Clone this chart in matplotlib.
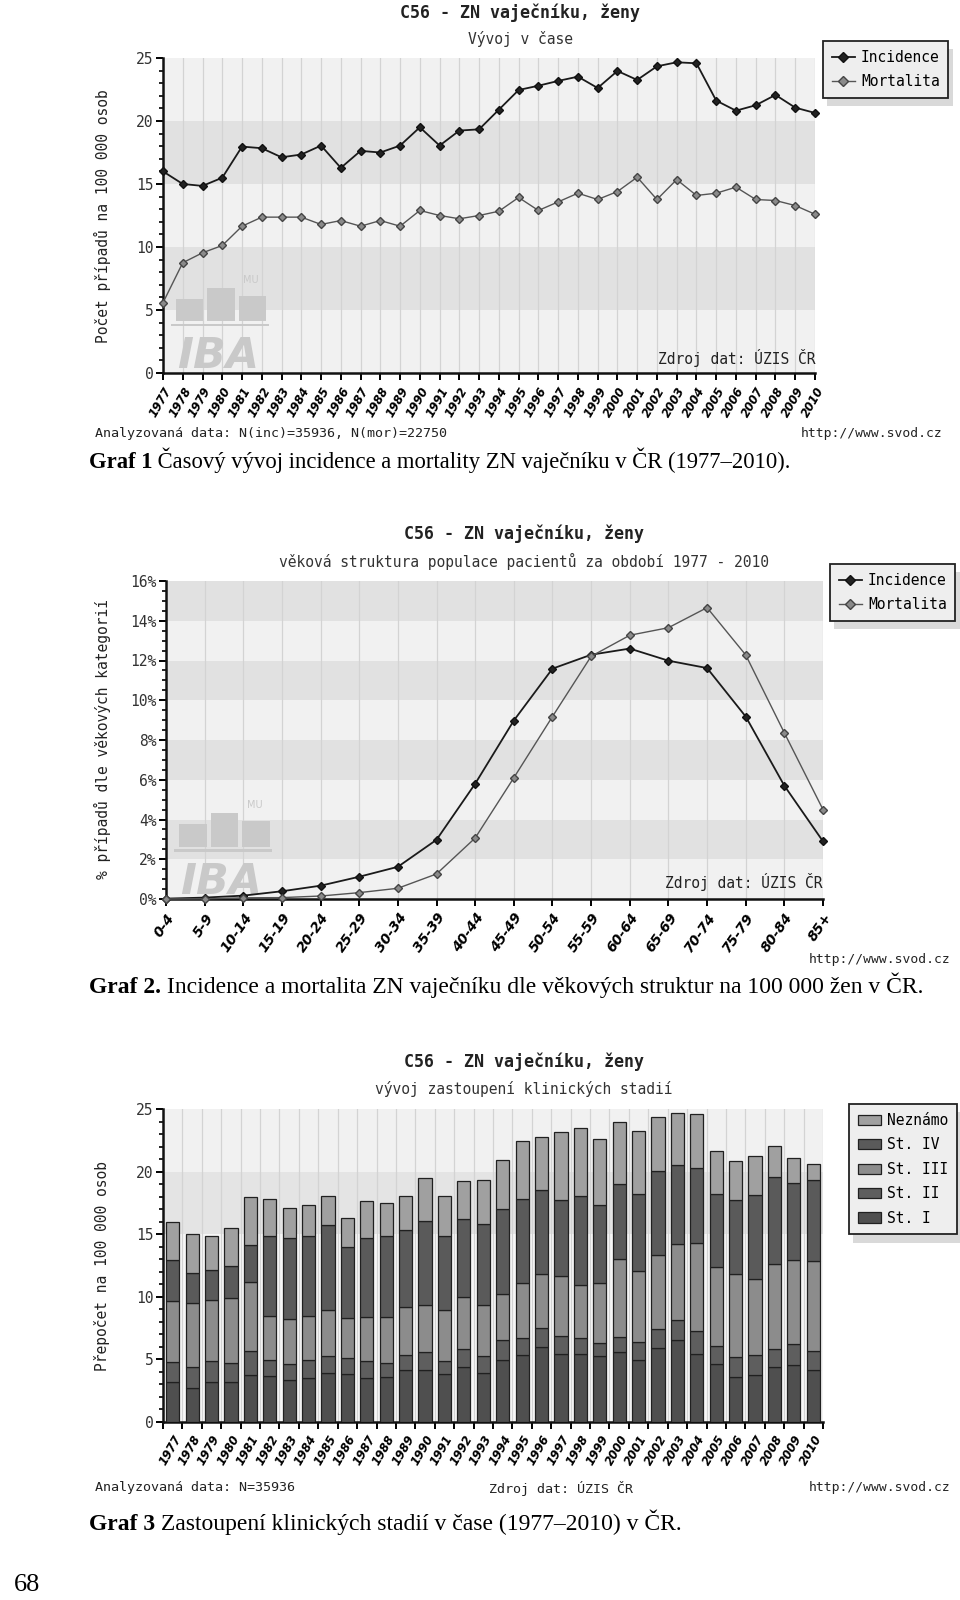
import matplotlib
matplotlib.use('Agg')
import matplotlib.pyplot as plt
from matplotlib.ticker import MultipleLocator, FixedLocator
from matplotlib.patches import Rectangle, Patch
from matplotlib.lines import Line2D

# ---- data ----
years = list(range(1977, 2011))
incidence = [16.0, 15.0, 14.85, 15.5, 17.97, 17.84, 17.12, 17.34, 18.05, 16.28,
             17.63, 17.5, 18.05, 19.5, 18.05, 19.24, 19.34, 20.9, 22.46, 22.8,
             23.18, 23.52, 22.62, 23.97, 23.26, 24.34, 24.66, 24.58, 21.62, 20.82,
             21.25, 22.07, 21.06, 20.64]
mortalita = [5.58, 8.75, 9.54, 10.12, 11.65, 12.37, 12.37, 12.37, 11.79, 12.1,
             11.65, 12.1, 11.65, 12.9, 12.5, 12.24, 12.5, 12.84, 13.93, 12.9,
             13.58, 14.27, 13.77, 14.4, 15.54, 13.77, 15.35, 14.09, 14.27, 14.75,
             13.77, 13.69, 13.29, 12.6]

age_groups = ['0-4', '5-9', '10-14', '15-19', '20-24', '25-29', '30-34', '35-39',
              '40-44', '45-49', '50-54', '55-59', '60-64', '65-69', '70-74',
              '75-79', '80-84', '85+']
age_inc = [0.02, 0.07, 0.17, 0.39, 0.67, 1.12, 1.62, 2.98, 5.8, 8.98, 11.59,
           12.29, 12.6, 11.99, 11.62, 9.18, 5.7, 2.9]
age_mor = [0.0, 0.01, 0.06, 0.07, 0.15, 0.32, 0.54, 1.26, 3.07, 6.1, 9.18,
           12.21, 13.27, 13.65, 14.66, 12.28, 8.36, 4.5]

st_1 = [3.21, 2.73, 3.21, 3.21, 3.79, 3.71, 3.32, 3.53, 3.90, 3.82, 3.53, 3.61,
        4.16, 4.16, 3.85, 4.43, 3.93, 4.99, 5.33, 5.97, 5.46, 5.46, 5.25, 5.57,
        4.99, 5.94, 6.55, 5.46, 4.62, 3.58, 3.79, 4.43, 4.54, 4.16]
st_2 = [1.59, 1.67, 1.64, 1.54, 1.89, 1.28, 1.32, 1.46, 1.35, 1.30, 1.35, 1.14,
        1.17, 1.44, 1.03, 1.41, 1.37, 1.56, 1.35, 1.56, 1.38, 1.22, 1.04, 1.22,
        1.40, 1.49, 1.62, 1.78, 1.43, 1.65, 1.57, 1.41, 1.67, 1.54]
st_3 = [4.88, 5.10, 4.91, 5.17, 5.49, 3.44, 3.61, 3.50, 3.69, 3.21, 3.50, 3.61,
        3.82, 3.71, 4.06, 4.11, 4.08, 3.69, 4.41, 4.27, 4.83, 4.27, 4.80, 6.23,
        5.65, 5.91, 6.05, 7.08, 6.31, 6.57, 6.05, 6.81, 6.76, 7.16]
st_4 = [3.22, 2.44, 2.39, 2.55, 2.98, 6.39, 6.47, 6.33, 6.77, 5.68, 6.34, 6.46,
        6.19, 6.75, 5.90, 6.24, 6.46, 6.75, 6.74, 6.75, 6.03, 7.10, 6.24, 6.01,
        6.16, 6.70, 6.28, 5.96, 5.84, 5.90, 6.69, 6.91, 6.13, 6.44]
neznamo = [3.10, 3.06, 2.70, 3.03, 3.82, 3.02, 2.40, 2.52, 2.34, 2.27, 2.91, 2.68,
           2.71, 3.44, 3.21, 3.05, 3.50, 3.91, 4.63, 4.25, 5.48, 5.47, 5.29, 4.94,
           5.06, 4.30, 4.16, 4.30, 3.42, 3.12, 3.15, 2.51, 1.96, 1.34]
stage_names = ['St. I', 'St. II', 'St. III', 'St. IV', 'Neznámo']
stage_colors = ['#4f4f4f', '#5e5e5e', '#8c8c8c', '#5a5a5a', '#a0a0a0']

W, H = 960, 1600
MONO = 'DejaVu Sans Mono'
SERIF = 'Liberation Serif'

fig = plt.figure(figsize=(W / 100, H / 100), dpi=100)
fig.patch.set_facecolor('white')


def box(x0, y0, x1, y1):
    return [x0 / W, 1 - y1 / H, (x1 - x0) / W, (y1 - y0) / H]


def ftext(x, y, s, **kw):
    kw.setdefault('family', MONO)
    return fig.text(x / W, 1 - y / H, s, **kw)


def style_axes(ax, ymax, major, minor, band, colors):
    ax.set_facecolor('none')
    lo = 0
    i = 0
    while lo < ymax:
        ax.axhspan(lo, lo + band, color=colors[i % 2], zorder=0, lw=0)
        lo += band
        i += 1
    ax.set_ylim(0, ymax)
    for s in ['top', 'right']:
        ax.spines[s].set_visible(False)
    for s in ['left', 'bottom']:
        ax.spines[s].set_linewidth(1.8)
        ax.spines[s].set_color('#111111')
    ax.yaxis.set_major_locator(MultipleLocator(major))
    ax.yaxis.set_minor_locator(MultipleLocator(minor))
    ax.tick_params(axis='y', which='major', length=5, width=1.4, pad=2,
                   labelsize=10.5, labelcolor='#333333')
    ax.tick_params(axis='y', which='minor', length=3, width=1.2)
    ax.tick_params(axis='x', which='major', length=5, width=1.4)
    for lab in ax.get_yticklabels():
        lab.set_family(MONO)


def draw_logo(ax):
    c = '#c9c9c9'
    for x0, y0, h in [(0.02, 0.165, 0.07), (0.068, 0.165, 0.105),
                      (0.116, 0.165, 0.08)]:
        ax.add_patch(Rectangle((x0, y0), 0.042, h, transform=ax.transAxes,
                               color=c, zorder=1, lw=0))
    ax.add_patch(Rectangle((0.012, 0.148), 0.15, 0.009,
                           transform=ax.transAxes, color=c, zorder=1, lw=0))
    ax.text(0.135, 0.285, 'MU', transform=ax.transAxes, fontsize=7,
            color=c, ha='center', zorder=1)
    ax.text(0.022, 0.015, 'IBA', transform=ax.transAxes, fontsize=31,
            fontweight='bold', fontstyle='italic', color=c, zorder=1,
            family='DejaVu Sans')


def legend(ax, handles, labels, x, y):
    lg = ax.legend(handles, labels, loc='upper left',
                   bbox_to_anchor=(x / W, 1 - y / H),
                   bbox_transform=fig.transFigure, fancybox=False,
                   framealpha=1, facecolor='#eeeeee', edgecolor='#222222',
                   prop={'family': MONO, 'size': 10.5}, borderaxespad=0,
                   handlelength=1.6, handletextpad=0.4, labelspacing=0.65,
                   borderpad=0.6,
                   shadow={'ox': 3, 'oy': -6, 'facecolor': '#d9d9d9',
                           'edgecolor': 'none', 'alpha': 1})
    lg.get_frame().set_linewidth(1.3)
    return lg


def caption(x, y, bold, rest, ax, size):
    t = ftext(x, y, bold, family=SERIF, fontsize=size, fontweight='bold',
              va='bottom')
    ax.annotate(rest, xy=(1, 0), xycoords=t, va='bottom', ha='left',
                family=SERIF, fontsize=size, annotation_clip=False)


# ================= Graf 1 =================
ax1 = fig.add_axes(box(163, 58, 815, 373))
style_axes(ax1, 25, 5, 1, 5, ['#f1f1f1', '#e1e1e1'])
ax1.set_xlim(years[0], years[-1])
ax1.set_xticks(years)
ax1.set_xticklabels([str(y) for y in years], rotation=60, ha='right',
                    rotation_mode='anchor', fontsize=8.5, fontweight='bold',
                    fontstyle='italic')
for y in years:
    ax1.axvline(y, color='#d3d3d3', lw=0.9, zorder=0.5)
draw_logo(ax1)
ax1.plot(years, incidence, color='#1a1a1a', lw=1.3, marker='D', ms=4.5,
         mfc='#222222', mec='#111111', zorder=3, clip_on=False)
ax1.plot(years, mortalita, color='#555555', lw=1.0, marker='D', ms=4.5,
         mfc='#8a8a8a', mec='#444444', zorder=3, clip_on=False)
ax1.text(1, 0.02, 'Zdroj dat: ÚZIS ČR', transform=ax1.transAxes, ha='right',
         va='bottom', family=MONO, fontsize=10.5, color='#222222', zorder=4)
h1 = [Line2D([], [], color='#1a1a1a', lw=1.3, marker='D', ms=5.5,
             mfc='#222222', mec='#111111'),
      Line2D([], [], color='#555555', lw=1.0, marker='D', ms=5.5,
             mfc='#8a8a8a', mec='#444444')]
legend(ax1, h1, ['Incidence', 'Mortalita'], 823, 41)

ftext(520, 13, 'C56 - ZN vaječníku, ženy', ha='center', va='center',
      fontsize=12, fontweight='bold', color='#222222')
ftext(520, 39, 'Vývoj v čase', ha='center', va='center', fontsize=10.5,
      color='#333333')
ftext(102, 216, 'Počet případů na 100 000 osob', rotation=90, ha='center',
      va='center', fontsize=10.5, color='#222222')
ftext(95, 434, 'Analyzovaná data: N(inc)=35936, N(mor)=22750', va='center',
      fontsize=9.6, color='#222222')
ftext(943, 434, 'http://www.svod.cz', ha='right', va='center', fontsize=9.4,
      color='#222222')
caption(89, 473, 'Graf 1', ' Časový vývoj incidence a mortality ZN vaječníku '
        'v ČR (1977–2010).', ax1, 16.3)

# ================= Graf 2 =================
ax2 = fig.add_axes(box(166, 581, 823, 899))
style_axes(ax2, 16, 2, 0.5, 2, ['#f1f1f1', '#e1e1e1'])
xa = list(range(len(age_groups)))
ax2.set_xlim(0, len(age_groups) - 1)
ax2.set_xticks(xa)
ax2.set_xticklabels(age_groups, rotation=55, ha='right',
                    rotation_mode='anchor', fontsize=10, fontweight='bold',
                    fontstyle='italic')
ax2.set_yticks(range(0, 17, 2))
ax2.set_yticklabels(['%d%%' % v for v in range(0, 17, 2)], family=MONO)
for x in xa:
    ax2.axvline(x, color='#d3d3d3', lw=0.9, zorder=0.5)
draw_logo(ax2)
ax2.plot(xa, age_inc, color='#1a1a1a', lw=1.3, marker='D', ms=4.5,
         mfc='#222222', mec='#111111', zorder=3, clip_on=False)
ax2.plot(xa, age_mor, color='#555555', lw=1.0, marker='D', ms=4.5,
         mfc='#8a8a8a', mec='#444444', zorder=3, clip_on=False)
ax2.text(1, 0.025, 'Zdroj dat: ÚZIS ČR', transform=ax2.transAxes, ha='right',
         va='bottom', family=MONO, fontsize=10.5, color='#222222', zorder=4)
legend(ax2, h1, ['Incidence', 'Mortalita'], 830, 564)

ftext(524, 534, 'C56 - ZN vaječníku, ženy', ha='center', va='center',
      fontsize=12, fontweight='bold', color='#222222')
ftext(524, 561, 'věková struktura populace pacientů za období 1977 - 2010',
      ha='center', va='center', fontsize=10.5, color='#333333')
ftext(102, 739, '% případů dle věkových kategorií', rotation=90, ha='center',
      va='center', fontsize=10.5, color='#222222')
ftext(951, 959, 'http://www.svod.cz', ha='right', va='center', fontsize=9.4,
      color='#222222')
caption(89, 998, 'Graf 2.', ' Incidence a mortalita ZN vaječníku dle věkových '
        'struktur na 100 000 žen v ČR.', ax2, 17)

# ================= Graf 3 =================
ax3 = fig.add_axes(box(163, 1109, 823, 1422))
style_axes(ax3, 25, 5, 1, 5, ['#f7f7f7', '#f7f7f7'])
ax3.axhspan(15, 20, color='#e4e4e4', zorder=0, lw=0)
ax3.axhspan(20, 25, color='#f1f1f1', zorder=0, lw=0)
xb = list(range(len(years)))
ax3.set_xlim(-0.5, len(years) - 0.5)
bounds = [i - 0.5 for i in range(len(years) + 1)]
ax3.xaxis.set_major_locator(FixedLocator(bounds))
ax3.set_xticklabels([''] * len(bounds))
ax3.set_xticks(xb, minor=True)
ax3.set_xticklabels([str(y) for y in years], minor=True, rotation=60,
                    ha='right', rotation_mode='anchor', fontsize=8.5,
                    fontweight='bold', fontstyle='italic')
ax3.tick_params(axis='x', which='minor', length=0, pad=8)
for b in bounds:
    ax3.axvline(b, color='#d3d3d3', lw=0.9, zorder=0.5)
bottom = [0.0] * len(years)
for vals, name, col in zip([st_1, st_2, st_3, st_4, neznamo], stage_names,
                           stage_colors):
    ax3.bar(xb, vals, 0.68, bottom=bottom, color=col, edgecolor='#202020',
            lw=0.9, zorder=3, label=name)
    bottom = [b + v for b, v in zip(bottom, vals)]
h3 = [Patch(facecolor=c, edgecolor='#202020', lw=0.9)
      for c in stage_colors][::-1]
lg3 = legend(ax3, h3, stage_names[::-1], 849, 1104)
ftext(524, 1062, 'C56 - ZN vaječníku, ženy', ha='center', va='center',
      fontsize=12, fontweight='bold', color='#222222')
ftext(524, 1089, 'vývoj zastoupení klinických stadií', ha='center',
      va='center', fontsize=10.5, color='#333333')
ftext(102, 1266, 'Přepočet na 100 000 osob', rotation=90, ha='center',
      va='center', fontsize=10.5, color='#222222')
ftext(95, 1488, 'Analyzovaná data: N=35936', va='center', fontsize=9.6,
      color='#222222')
ftext(489, 1488, 'Zdroj dat: ÚZIS ČR', va='center', fontsize=9.6,
      color='#222222')
ftext(951, 1488, 'http://www.svod.cz', ha='right', va='center', fontsize=9.4,
      color='#222222')
caption(89, 1535, 'Graf 3', ' Zastoupení klinických stadií v čase '
        '(1977–2010) v ČR.', ax3, 17)

ftext(14, 1596, '68', family=SERIF, fontsize=19, va='bottom')

fig.savefig('out.png', dpi=100)
